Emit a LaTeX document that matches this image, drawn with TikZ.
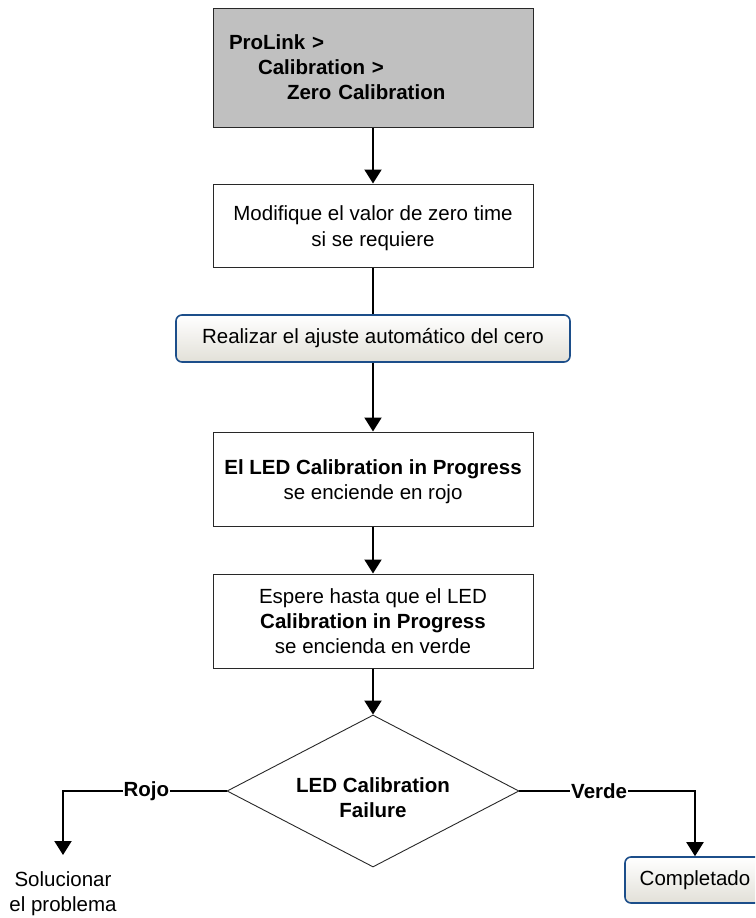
\documentclass[tikz,border=0pt]{standalone}
\usepackage{fontspec}
\setmainfont{Liberation Sans}
\usetikzlibrary{arrows.meta,shapes.geometric}

\definecolor{menugray}{RGB}{192,192,192}
\definecolor{btnblue}{RGB}{28,78,138}
\definecolor{btnbottom}{RGB}{226,224,216}
\definecolor{edgegray}{RGB}{40,40,40}

\tikzset{
  basefont/.style={font=\fontsize{20.5}{25}\selectfont},
  stepbox/.style={basefont, draw=edgegray, line width=1pt, fill=white,
    minimum width=320pt, align=center, inner sep=0pt},
  menubox/.style={basefont, draw=edgegray, line width=1pt, fill=menugray,
    minimum width=320pt, minimum height=119pt, text width=288pt,
    align=left, inner xsep=16pt, inner ysep=0pt},
  btnbox/.style={basefont, draw=btnblue, line width=1.6pt, rounded corners=6pt,
    top color=white, bottom color=btnbottom, align=center, inner sep=0pt},
  decide/.style={diamond, draw=edgegray, line width=0.9pt, fill=white,
    aspect=1.92, minimum width=292pt, minimum height=152pt, inner sep=0pt},
  flow/.style={line width=2pt, draw=black},
  arr/.style={flow, -{Triangle[length=14pt,width=17pt]}},
  branchlabel/.style={font=\fontsize{20.5}{25}\selectfont\bfseries,
    fill=white, inner sep=1pt},
}

\begin{document}
\begin{tikzpicture}[x=1pt,y=-1pt]
  \clip (0,0) rectangle (755,918);
  \fill[white] (0,0) rectangle (755,918);

  % menu path
  \node[menubox] (menu) at (373,67.5)
    {\textbf{ProLink >}\\
     \hspace*{29pt}\textbf{Calibration >}\\
     \hspace*{58pt}\textbf{Zero Calibration}};

  % process steps
  \node[stepbox, minimum height=83pt, text height=47pt] (zt) at (373,225.5)
    {Modifique el valor de zero time\\[1pt]si se requiere};
  \node[btnbox, minimum width=394pt, minimum height=47pt] (auto) at (373,338.5)
    {Realizar el ajuste autom\'atico del cero};
  \node[stepbox, minimum height=94pt, text height=46pt] (red) at (373,479)
    {\textbf{El LED Calibration in Progress}\\se enciende en rojo};
  \node[stepbox, minimum height=94pt] (wait) at (373,621)
    {Espere hasta que el LED\\\textbf{Calibration in Progress}\\se encienda en verde};

  % decision
  \node[decide] (fail) at (373,791) {};
  \node[basefont, align=center, font=\fontsize{20.5}{25}\selectfont\bfseries]
    (failtext) at ([yshift=-7pt]fail.center) {LED Calibration\\Failure};

  % outcomes
  \node[basefont, align=center, anchor=north, inner xsep=0pt, inner ysep=16pt]
    (fix) at (63,855) {Solucionar\\el problema};
  \node[btnbox, minimum width=140pt, minimum height=46pt] (done) at (695,880)
    {Completado};

  % connectors
  \draw[arr] (menu) -- (zt);
  \draw[flow] (zt) -- (auto);
  \draw[arr] (auto) -- (red);
  \draw[arr] (red) -- (wait);
  \draw[arr] (wait) -- (fail);
  \draw[arr] (fail.west) -| node[branchlabel, pos=0.245] {Rojo} (fix.north);
  \draw[arr] (fail.east) -| node[branchlabel, pos=0.227] {Verde} (done.north);
\end{tikzpicture}
\end{document}
